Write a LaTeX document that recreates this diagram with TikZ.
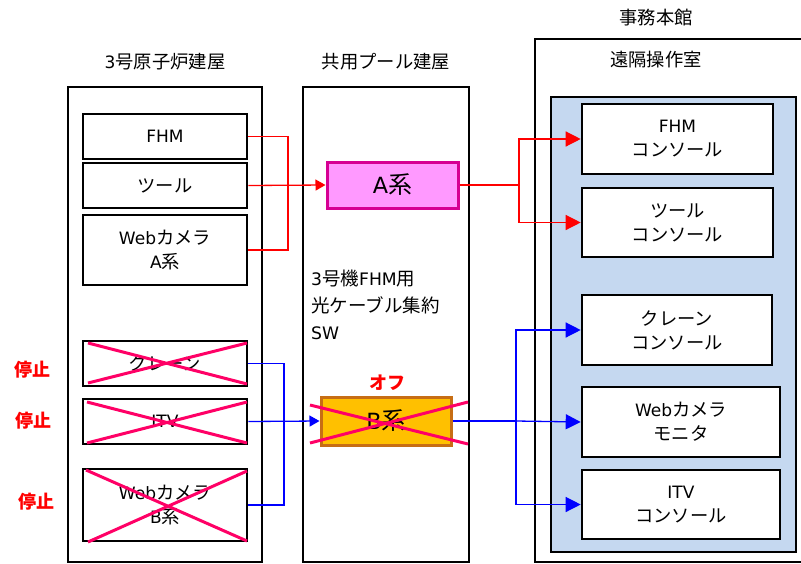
\documentclass[tikz,border=0pt]{standalone}
\usepackage{fontspec}
\setmainfont{Noto Sans CJK JP}
\newfontfamily\latn[Scale=0.93]{DejaVu Sans}
\usetikzlibrary{arrows.meta}
\definecolor{amag}{RGB}{255,153,255}
\definecolor{amagb}{RGB}{214,0,147}
\definecolor{bora}{RGB}{255,192,0}
\definecolor{borab}{RGB}{199,110,20}
\definecolor{xcol}{RGB}{255,0,102}
\definecolor{panel}{RGB}{197,216,240}
\definecolor{lred}{RGB}{255,0,0}
\definecolor{lblue}{RGB}{0,0,255}
\begin{document}
\begin{tikzpicture}[x=1pt,y=-1pt,
  txt/.style={font=\fontsize{18.3}{24}\selectfont, align=center},
  box/.style={txt, draw=black, line width=2.6pt, fill=white, inner sep=0pt},
  outer/.style={draw=black, line width=2pt, inner sep=0pt},
  sysbox/.style={font=\fontsize{24}{28}\selectfont, line width=3pt, inner sep=0pt},
  stop/.style={font=\fontsize{18}{20}\selectfont\bfseries, text=lred},
  rl/.style={draw=lred, line width=1.3pt},
  bl/.style={draw=lblue, line width=1.3pt},
  bigtip/.style={-{Triangle[length=15pt,width=15pt]}},
  smalltip/.style={-{Triangle[length=10pt,width=11pt]}},
  xline/.style={draw=xcol, line width=3pt}
]
\useasboundingbox (0,0) rectangle (801,563);

% titles
\node[txt] (t1) at (165,62) {{\latn 3}号原子炉建屋};
\node[txt] (t2) at (386,62) {共用プール建屋};
\node[txt] (t3) at (656,18) {事務本館};
\node[txt] (t4) at (656,60) {遠隔操作室};

% outer buildings
\node[outer, minimum width=194pt, minimum height=475pt] (lbld) at (165,324.5) {};
\node[outer, minimum width=166pt, minimum height=475pt] (mbld) at (386,324.5) {};
\draw[line width=2pt] (801,39) -- (535,39) -- (535,562) -- (801,562);
\node[outer, fill=panel, minimum width=245pt, minimum height=455pt] (pnl) at (673.5,324.5) {};

% left boxes
\node[box, minimum width=164pt, minimum height=45pt] (fhm) at (165,136.5) {\latn FHM};
\node[box, minimum width=164pt, minimum height=45pt] (tool) at (165,185.5) {ツール};
\node[box, minimum width=164pt, minimum height=70pt] (webA) at (165,250) {{\latn Web}カメラ\\{\latn A}系};
\node[box, minimum width=164pt, minimum height=45pt] (crane) at (165,363.5) {クレーン};
\node[box, minimum width=164pt, minimum height=45pt] (itv) at (165,421.5) {\latn ITV};
\node[box, minimum width=164pt, minimum height=72pt] (webB) at (165,505) {{\latn Web}カメラ\\{\latn B}系};

% crosses on left boxes
\draw[xline] (88,343) -- (247,384) (88,383) -- (247,343);
\draw[xline] (87,402) -- (247,443) (87,443) -- (247,402);
\draw[xline] (86,470) -- (247,541) (88,542) -- (247,471);

% stop labels
\node[stop] (s1) at (33,370) {停止};
\node[stop] (s2) at (34,421) {停止};
\node[stop] (s3) at (36,502) {停止};

% middle
\node[sysbox, draw=amagb, fill=amag, minimum width=131pt, minimum height=46pt] (A) at (392.5,185) {{\latn A}系};
\node[sysbox, draw=borab, fill=bora, minimum width=130pt, minimum height=48pt] (B) at (386,421) {{\latn B}系};
\draw[xline] (310,405) -- (468,444) (310,443) -- (468,402);
\node[stop] (off) at (387,383) {オフ};
\node[font=\fontsize{18.5}{27}\selectfont, align=left, anchor=north west, inner sep=0pt] (sw) at (311,270) {{\latn 3}号機{\latn FHM}用\\光ケーブル集約\\{\latn SW}};

% consoles
\node[box, minimum width=191pt, minimum height=70pt] (cfhm) at (677.5,139) {{\latn FHM}\\コンソール};
\node[box, minimum width=191pt, minimum height=69pt] (ctool) at (677.5,222.5) {ツール\\コンソール};
\node[box, minimum width=190pt, minimum height=70pt] (ccrane) at (677,330) {クレーン\\コンソール};
\node[box, minimum width=198pt, minimum height=70pt] (cweb) at (681,422) {{\latn Web}カメラ\\モニタ};
\node[box, minimum width=198pt, minimum height=69pt] (citv) at (681,504.5) {{\latn ITV}\\コンソール};

% red connectors
\coordinate (jA) at (288,185);
\coordinate (jR) at (519,185);
\draw[rl] (fhm.east) -| (jA) |- (webA.east);
\draw[rl, smalltip] (tool.east) -- (A.west);
\draw[rl] (A.east) -- (jR);
\draw[rl, bigtip] (jR) |- (cfhm.west);
\draw[rl, bigtip] (jR) |- (ctool.west);

% blue connectors
\coordinate (jB) at (284,421);
\coordinate (jC) at (516,421);
\draw[bl] (crane.east) -| (jB) |- (webB.east);
\draw[bl, smalltip] (itv.east) -- (B.west);
\draw[bl] (B.east) -- (jC);
\draw[bl, bigtip] (jC) |- (ccrane.west);
\draw[bl, bigtip] (jC) -- (cweb.west);
\draw[bl, bigtip] (jC) |- (citv.west);
\end{tikzpicture}
\end{document}
